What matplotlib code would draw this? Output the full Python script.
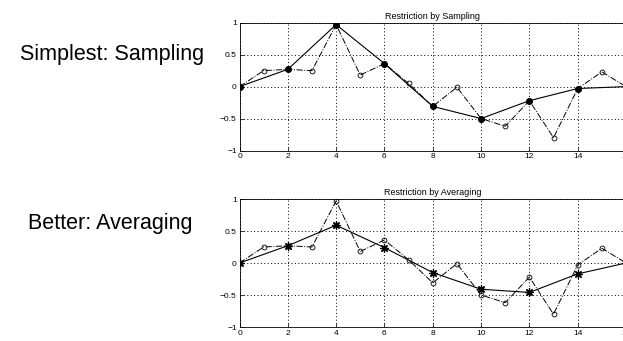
import numpy as np
import matplotlib.pyplot as plt

plt.rcParams['font.family'] = ['Liberation Sans', 'DejaVu Sans']

# fine grid values (dash-dot, open circles)
x_fine = list(range(17))
fine = [0.0, 0.25, 0.27, 0.25, 0.97, 0.18, 0.36, 0.05, -0.31,
        -0.01, -0.5, -0.62, -0.22, -0.8, -0.03, 0.23, 0.0]

# coarse grid values (solid)
x_coarse = list(range(0, 17, 2))
sampled = [0.0, 0.27, 0.97, 0.36, -0.31, -0.5, -0.22, -0.03, 0.0]
averaged = [0.0, 0.27, 0.59, 0.24, -0.15, -0.41, -0.46, -0.17, 0.0]

titles = ['Restriction by Sampling', 'Restriction by Averaging']
side_labels = ['Simplest: Sampling', 'Better: Averaging']

W, H = 623, 341
fig = plt.figure(figsize=(W / 100, H / 100), dpi=100)

def px_axes(left, top, right, bottom):
    return fig.add_axes([left / W, 1 - bottom / H, (right - left) / W, (bottom - top) / H])

ax1 = px_axes(239.5, 22.7, 626, 150.5)
ax2 = px_axes(239.5, 199, 626, 327)

for ax, coarse, title, marker in [(ax1, sampled, titles[0], 'o'), (ax2, averaged, titles[1], '*')]:
    ax.plot(x_fine, fine, color='black', linestyle='-.', linewidth=0.7,
            marker='o', markersize=3.5, markerfacecolor='none', markeredgewidth=0.6)
    if marker == 'o':
        ax.plot(x_coarse, coarse, color='black', linestyle='-', linewidth=0.8,
                marker='o', markersize=4, markerfacecolor='black')
    else:
        # matlab-style line asterisk
        ax.plot(x_coarse, coarse, color='black', linestyle='-', linewidth=0.8,
                marker=(8, 2, 0), markersize=6, markeredgewidth=0.9)
    ax.set_xlim(0, 16)
    ax.set_ylim(-1, 1)
    ax.set_xticks(range(0, 17, 2))
    ax.set_yticks([-1, -0.5, 0, 0.5, 1])
    ax.set_yticklabels(['\u22121', '\u22120.5', '0', '0.5', '1'])
    ax.grid(True, color='black', linestyle=(0, (1, 2.5)), linewidth=0.7)
    ax.tick_params(direction='in', labelsize=6, length=3, width=0.5, pad=2)
    for s in ax.spines.values():
        s.set_linewidth(0.6)
    ax.set_title(title, fontsize=6.5, pad=3)

fig.text(112.5 / W, 1 - 60 / H, side_labels[0], fontsize=15.5, ha='center', va='baseline')
fig.text(110.5 / W, 1 - 229 / H, side_labels[1], fontsize=15.5, ha='center', va='baseline')

fig.savefig('out.png', dpi=100)
